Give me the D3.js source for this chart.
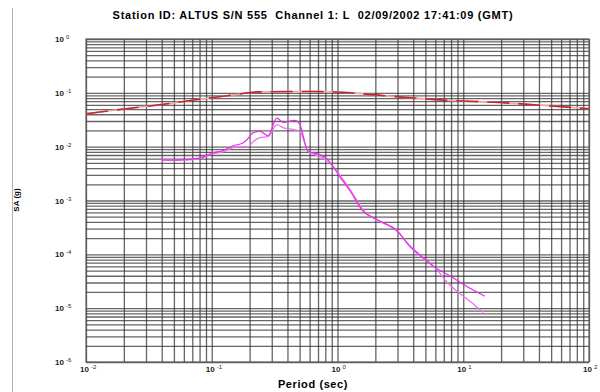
<!DOCTYPE html>
<html>
<head>
<meta charset="utf-8">
<script src="https://d3js.org/d3.v7.min.js"></script>
<style>
body { margin: 0; background: #fff; }
text { font-family: "Liberation Sans", Arial, sans-serif; }
</style>
</head>
<body>
<div id="chart"></div>
<script>
// titles
var titleText = "Station ID: ALTUS S/N 555  Channel 1: L  02/09/2002 17:41:09 (GMT)";
var xTitle = "Period (sec)";
var yTitle = "SA (g)";

// decade tick exponents
var xDecades = [-2, -1, 0, 1, 2];
var yDecades = [0, -1, -2, -3, -4, -5, -6];

// design spectrum (red dashed)
var designPeriod = [0.01, 0.02, 0.05, 0.08, 0.15, 0.23, 0.5, 0.84, 1.5, 3.1, 7.9, 19.5, 50, 100];
var designSA     = [0.041, 0.050, 0.065, 0.076, 0.092, 0.104, 0.106, 0.105, 0.097, 0.084, 0.072, 0.066, 0.057, 0.0506];

// response spectra (magenta)
var periodA = [0.0402, 0.0559, 0.0806, 0.102, 0.123, 0.148, 0.177, 0.194, 0.213, 0.242, 0.280, 0.330, 0.369, 0.459, 0.503,
               0.583, 0.726, 0.840, 1.05, 1.26, 1.60, 2.06, 2.97, 3.77, 4.79, 6.18, 7.43, 8.92, 11.3, 14.9];
var saA     = [0.00562, 0.0057, 0.0062, 0.0077, 0.0085, 0.0104, 0.0117, 0.0141, 0.0182, 0.0192, 0.016, 0.034, 0.0282, 0.0307, 0.0256,
               0.0082, 0.0071, 0.0057, 0.0027, 0.0015, 0.00063, 0.000445, 0.00027, 0.000143, 0.000087, 0.000054, 0.0000427, 0.000033, 0.0000234, 0.0000167];

var periodB = [0.0402, 0.0559, 0.0806, 0.102, 0.123, 0.148, 0.177, 0.194, 0.213, 0.242, 0.280, 0.330, 0.369, 0.459, 0.503,
               0.583, 0.726, 0.840, 1.05, 1.26, 1.60, 2.06, 2.97, 3.77, 4.79, 6.18, 7.43, 8.92, 11.3, 14.4];
var saB     = [0.0058, 0.0056, 0.0060, 0.0074, 0.0080, 0.0096, 0.0100, 0.0099, 0.0124, 0.0147, 0.0153, 0.0256, 0.0225, 0.0206, 0.0192,
               0.0082, 0.0066, 0.0053, 0.0029, 0.0016, 0.00066, 0.00043, 0.00028, 0.000138, 0.000084, 0.000052, 0.0000303, 0.0000206, 0.0000135, 0.0000083];

// set the dimensions and margins of the graph
var margin = {top: 39, right: 11, bottom: 30, left: 86},
    width = 600 - margin.left - margin.right,
    height = 392 - margin.top - margin.bottom;

var x = d3.scaleLog().domain([1e-2, 1e2]).range([0, width]);
var y = d3.scaleLog().domain([1e-6, 1]).range([height, 0]);

var svg0 = d3.select("#chart").append("svg")
    .attr("width", 600)
    .attr("height", 392);

// grey rule at the left edge
svg0.append("line")
    .attr("x1", 12.5).attr("x2", 12.5)
    .attr("y1", 8).attr("y2", 392)
    .attr("stroke", "#b0b0b0");

var svg = svg0.append("g")
    .attr("transform", "translate(" + margin.left + "," + margin.top + ")");

// all grid values: 1..9 x each decade
function gridValues(lo, hi) {
    var v = [];
    for (var e = lo; e < hi; e++) {
        for (var m = 1; m < 10; m++) v.push(m * Math.pow(10, e));
    }
    v.push(Math.pow(10, hi));
    return v;
}

var xGrid = d3.axisBottom(x)
    .tickValues(gridValues(-2, 2))
    .tickSize(-height)
    .tickFormat("");
svg.append("g")
    .attr("class", "grid")
    .attr("transform", "translate(0," + height + ")")
    .call(xGrid);

var yGrid = d3.axisLeft(y)
    .tickValues(gridValues(-6, 0))
    .tickSize(-width)
    .tickFormat("");
svg.append("g")
    .attr("class", "grid")
    .call(yGrid);

svg.selectAll(".grid .domain").remove();
svg.selectAll(".grid line")
    .attr("stroke", "#333")
    .attr("stroke-width", 1.3)
    .attr("stroke-opacity", 0.75);

// frame
svg.append("rect")
    .attr("width", width).attr("height", height)
    .attr("fill", "none")
    .attr("stroke", "#555")
    .attr("stroke-width", 1);

// tick labels with superscript exponents
svg.selectAll(".ylab")
    .data(yDecades)
    .enter().append("text")
    .attr("class", "ylab")
    .attr("x", -31)
    .attr("y", function(d) { return y(Math.pow(10, d)) + 3; })
    .attr("font-size", "8px")
    .attr("font-weight", "bold")
    .attr("fill", "#222")
    .each(function(d) {
        var t = d3.select(this);
        t.append("tspan").text("10");
        t.append("tspan").attr("dx", 2).attr("dy", -3).attr("font-size", "6px").attr("font-weight", "normal").text(d === 0 ? "0" : "-" + Math.abs(d));
    });

svg.selectAll(".xlab")
    .data(xDecades)
    .enter().append("text")
    .attr("class", "xlab")
    .attr("x", function(d) { return x(Math.pow(10, d)) - 6; })
    .attr("y", height + 10)
    .attr("font-size", "8px")
    .attr("font-weight", "bold")
    .attr("fill", "#222")
    .each(function(d) {
        var t = d3.select(this);
        t.append("tspan").text("10");
        t.append("tspan").attr("dx", 2).attr("dy", -3).attr("font-size", "6px").attr("font-weight", "normal").text(d <= 0 ? (d === 0 ? "0" : "-" + Math.abs(d)) : String(d));
    });

// titles
svg0.append("text")
    .attr("x", 313).attr("y", 19)
    .attr("text-anchor", "middle")
    .attr("font-size", "11px")
    .attr("font-weight", "bold")
    .attr("letter-spacing", "0.75px")
    .style("white-space", "pre")
    .text(titleText);

svg0.append("text")
    .attr("x", 313).attr("y", 388)
    .attr("text-anchor", "middle")
    .attr("font-size", "11px")
    .attr("font-weight", "bold")
    .attr("letter-spacing", "0.6px")
    .text(xTitle);

svg0.append("text")
    .attr("transform", "translate(19,200) rotate(-90)")
    .attr("text-anchor", "middle")
    .attr("font-size", "8px")
    .attr("font-weight", "bold")
    .text(yTitle);

// lines
var line = d3.line()
    .curve(d3.curveMonotoneX)
    .x(function(d) { return x(d[0]); })
    .y(function(d) { return y(d[1]); });

var design = d3.zip(designPeriod, designSA);
svg.append("path")
    .datum(design)
    .attr("d", line)
    .attr("fill", "none")
    .attr("stroke", "#f7a3aa")
    .attr("stroke-width", 1.6);
svg.append("path")
    .datum(design)
    .attr("d", line)
    .attr("fill", "none")
    .attr("stroke", "#c0272d")
    .attr("stroke-width", 1.6)
    .attr("stroke-dasharray", "22,9");

svg.append("path")
    .datum(d3.zip(periodB, saB))
    .attr("d", line)
    .attr("fill", "none")
    .attr("stroke", "#f070f0")
    .attr("stroke-width", 1.3);

svg.append("path")
    .datum(d3.zip(periodA, saA))
    .attr("d", line)
    .attr("fill", "none")
    .attr("stroke", "#e62ee6")
    .attr("stroke-width", 1.2);
</script>
</body>
</html>
